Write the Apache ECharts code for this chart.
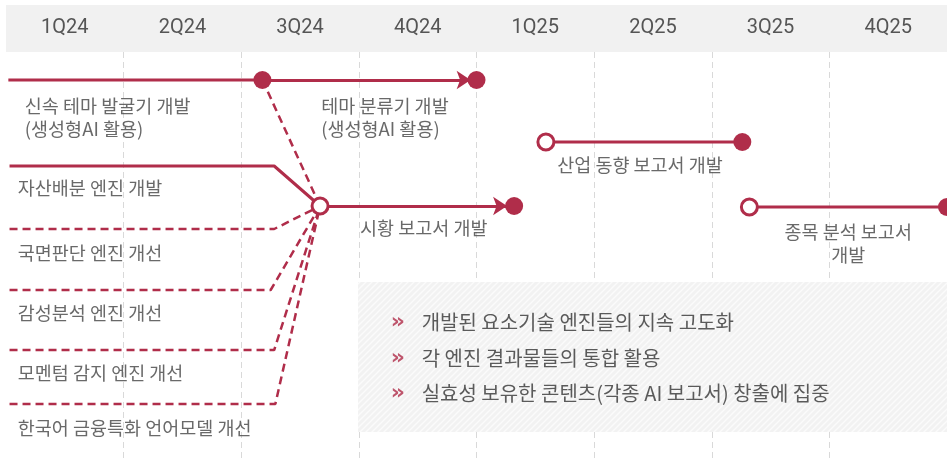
<!DOCTYPE html>
<html>
<head>
<meta charset="utf-8">
<script src="https://cdn.jsdelivr.net/npm/echarts@6/dist/echarts.min.js"></script>
<style>
  html, body { margin: 0; padding: 0; background: #fff; }
  #chart { width: 947px; height: 461px; }
</style>
</head>
<body>
<div id="chart"></div>
<script>
var quarters = ["1Q24", "2Q24", "3Q24", "4Q24", "1Q25", "2Q25", "3Q25", "4Q25"];

// x = quarter position (0 = start of 1Q24), y = distance below the header band
var solidPaths = [
  [[0.02, 28], [2.18, 28]],
  [[0.03, 114], [2.28, 114], [2.67, 154]],
  [[4.59, 90], [6.26, 90]],
  [[6.32, 155], [8.0, 155]]
];
var dashedPaths = [
  [[2.18, 28], [2.67, 154]],
  [[0.03, 177], [2.28, 177], [2.67, 154]],
  [[0.03, 238], [2.25, 238], [2.67, 154]],
  [[0.03, 298], [2.28, 298], [2.67, 154]],
  [[0.03, 352], [2.29, 352], [2.67, 154]]
];
var arrowPaths = [
  [[2.18, 28], [3.95, 28]],
  [[2.67, 154], [4.26, 154]]
];
var filledDots = [[2.18, 28], [4.0, 28], [4.32, 154], [6.26, 90], [8.0, 155]];
var hollowDots = [[2.67, 154], [4.59, 90], [6.32, 155]];

var itemLabels = [
  { text: "신속 테마 발굴기 개발\n(생성형AI 활용)", x: 0.16, y: 65.5, align: "left" },
  { text: "테마 분류기 개발\n(생성형AI 활용)", x: 2.68, y: 65.5, align: "left" },
  { text: "자산배분 엔진 개발", x: 0.10, y: 136, align: "left" },
  { text: "국면판단 엔진 개선", x: 0.10, y: 201, align: "left" },
  { text: "감성분석 엔진 개선", x: 0.10, y: 261, align: "left" },
  { text: "모멘텀 감지 엔진 개선", x: 0.10, y: 321, align: "left" },
  { text: "한국어 금융특화 언어모델 개선", x: 0.10, y: 376, align: "left" },
  { text: "시황 보고서 개발", x: 3.01, y: 176, align: "left" },
  { text: "산업 동향 보고서 개발", x: 5.39, y: 113, align: "center" },
  { text: "종목 분석 보고서\n개발", x: 7.16, y: 191.5, align: "center" }
];
var bulletLines = [
  "개발된 요소기술 엔진들의 지속 고도화",
  "각 엔진 결과물들의 통합 활용",
  "실효성 보유한 콘텐츠(각종 AI 보고서) 창출에 집중"
];
var bulletY = [270, 306, 341];

var red = "#b02d4a";
var font = "'Noto Sans CJK KR', 'Noto Sans', sans-serif";

function hatch() {
  var c = document.createElement("canvas");
  c.width = 6; c.height = 6;
  var ctx = c.getContext("2d");
  ctx.fillStyle = "#f2f2f2";
  ctx.fillRect(0, 0, 6, 6);
  ctx.strokeStyle = "#fbfbfb";
  ctx.lineWidth = 1.4;
  ctx.beginPath();
  ctx.moveTo(-1, 7); ctx.lineTo(7, -1);
  ctx.moveTo(-1, 1); ctx.lineTo(1, -1);
  ctx.moveTo(5, 7); ctx.lineTo(7, 5);
  ctx.stroke();
  return c;
}

var series = [];
solidPaths.forEach(function (p) {
  series.push({
    type: "line", data: p, symbol: "none", silent: true,
    lineStyle: { color: red, width: 3 }
  });
});
dashedPaths.forEach(function (p) {
  series.push({
    type: "line", data: p, symbol: "none", silent: true,
    lineStyle: { color: red, width: 2.5, type: [8, 5] }
  });
});
series.push({
  type: "lines", coordinateSystem: "cartesian2d",
  symbol: ["none", "arrow"], symbolSize: 14,
  lineStyle: { color: red, width: 3, opacity: 1 },
  data: arrowPaths.map(function (p) { return { coords: p }; })
});
series.push({
  type: "scatter", data: filledDots, symbol: "circle", symbolSize: 18,
  itemStyle: { color: red, opacity: 1 }, z: 5
});
series.push({
  type: "scatter", data: hollowDots, symbol: "circle", symbolSize: 16,
  itemStyle: { color: "#fff", borderColor: red, borderWidth: 3, opacity: 1 }, z: 5
});

var labelData = itemLabels.map(function (d) {
  return {
    value: [d.x, d.y],
    label: { formatter: d.text, align: d.align }
  };
});
series.push({
  type: "scatter", symbolSize: 0, silent: true, z: 6,
  data: labelData,
  label: {
    show: true, position: [0, 0], verticalAlign: "middle",
    color: "#444", fontSize: 18.5, lineHeight: 23, fontFamily: font
  }
});
series.push({
  type: "scatter", symbolSize: 0, silent: true, z: 6,
  data: bulletLines.map(function (t, i) { return { value: [3.27, bulletY[i]], name: t }; }),
  label: {
    show: true, position: [0, 0], align: "left", verticalAlign: "middle",
    formatter: function (p) { return "{b|»}{t|" + p.name + "}"; },
    rich: {
      b: { color: red, fontSize: 22, fontWeight: "bold", width: 31, fontFamily: "DejaVu Sans" },
      t: { color: "#333", fontSize: 20, fontFamily: font }
    }
  }
});

var myChart = echarts.init(document.getElementById("chart"));
myChart.setOption({
  animation: false,
  grid: { left: 6, top: 52, width: 945, height: 409 },
  xAxis: [
    {
      type: "value", min: 0, max: 8, interval: 1,
      axisLine: { show: false }, axisTick: { show: false }, axisLabel: { show: false },
      splitLine: {
        show: true, showMinLine: false, showMaxLine: false,
        lineStyle: { color: "#d9d9d9", width: 1, type: [6, 4] }
      }
    },
    {
      type: "category", data: quarters, position: "top",
      axisLine: { show: false }, axisTick: { show: false }, splitLine: { show: false },
      axisLabel: { color: "#555", fontSize: 20, margin: 14, fontFamily: "Roboto" }
    }
  ],
  yAxis: { type: "value", min: 0, max: 409, inverse: true, show: false },
  graphic: [
    {
      type: "rect", z: -1, silent: true,
      shape: { x: 6, y: 5, width: 941, height: 47 },
      style: { fill: "#f1f1f1" }
    },
    {
      type: "rect", z: 1, silent: true,
      shape: { x: 358, y: 282, width: 600, height: 150 },
      style: { fill: { image: hatch(), repeat: "repeat" } }
    }
  ],
  series: series
});
</script>
</body>
</html>
